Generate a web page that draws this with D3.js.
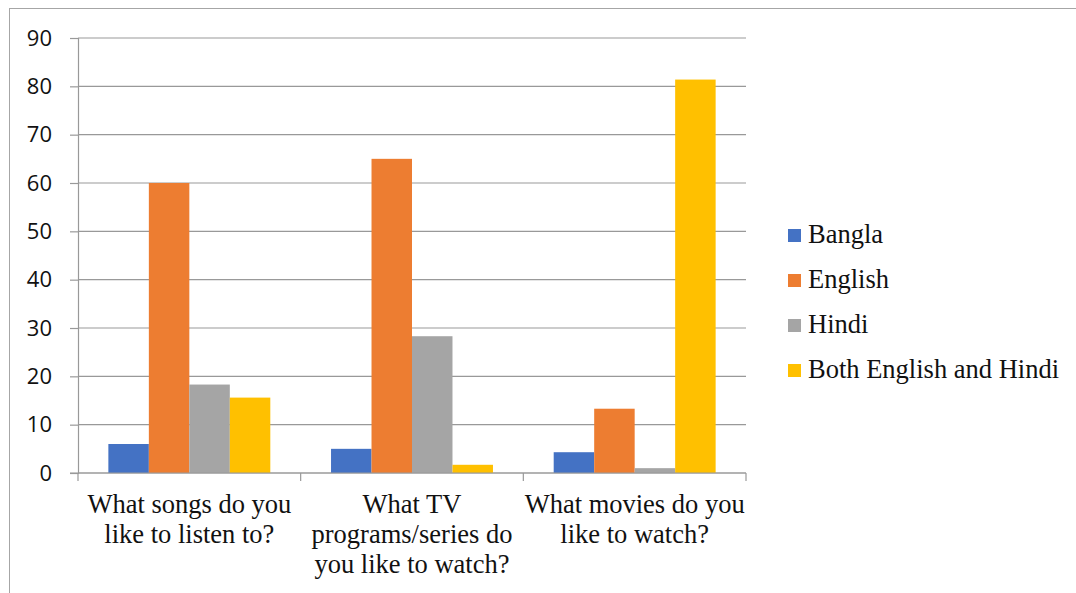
<!DOCTYPE html>
<html>
<head>
<meta charset="utf-8">
<script src="https://cdn.jsdelivr.net/npm/d3@7"></script>
<style>
  html, body { margin: 0; padding: 0; background: #fff; }
  svg { display: block; }
</style>
</head>
<body>
<svg id="chart" width="1076" height="593"></svg>
<script>
// Survey: language preference by media type
const categories = [
  "What songs do you\nlike to listen to?",
  "What TV\nprograms/series do\nyou like to watch?",
  "What movies do you\nlike to watch?"
];
const seriesNames = ["Bangla", "English", "Hindi", "Both English and Hindi"];
const bangla  = [6, 5, 4.3];
const english = [60, 65, 13.3];
const hindi   = [18.3, 28.3, 1];
const both    = [15.6, 1.7, 81.4];
const yTicks  = [0, 10, 20, 30, 40, 50, 60, 70, 80, 90];
const colors  = ["#4472C4", "#ED7D31", "#A5A5A5", "#FFC000"];

const seriesValues = [bangla, english, hindi, both];

const SERIF = "Liberation Serif";
const SANS = "Open Sans";

const svg = d3.select("#chart");
const plot = { left: 78, right: 746, top: 38, bottom: 473 };
const axisColor = "#999999";

// outer frame
svg.append("rect")
  .attr("x", 9.5).attr("y", 8.5)
  .attr("width", 1070).attr("height", 600)
  .attr("fill", "none").attr("stroke", "#a6a6a6").attr("stroke-width", 1);

const x0 = d3.scaleBand().domain(d3.range(categories.length))
  .range([plot.left, plot.right]).padding(0);
const x1 = d3.scaleBand().domain(d3.range(seriesNames.length))
  .range([0, x0.bandwidth()]).paddingInner(0).paddingOuter(0.75);
const y = d3.scaleLinear().domain([0, 90]).range([plot.bottom, plot.top]);

// horizontal gridlines
svg.append("g").selectAll("line").data(yTicks).join("line")
  .attr("x1", plot.left).attr("x2", plot.right)
  .attr("y1", d => y(d)).attr("y2", d => y(d))
  .attr("stroke", axisColor).attr("stroke-width", 1.2);

// y axis
const yAxis = d3.axisLeft(y).tickValues(yTicks).tickSize(8).tickPadding(18)
  .tickFormat(d3.format("d"));
const gy = svg.append("g").attr("transform", `translate(${plot.left},0)`).call(yAxis);
gy.attr("font-family", SANS).attr("font-size", 22);
gy.select(".domain").attr("stroke", axisColor).attr("stroke-width", 1.2);
gy.selectAll(".tick line").attr("stroke", axisColor).attr("stroke-width", 1.2);
gy.selectAll(".tick text").attr("fill", "#111");

// bars
const groups = svg.append("g").selectAll("g").data(categories).join("g")
  .attr("transform", (d, i) => `translate(${x0(i)},0)`);
groups.selectAll("rect")
  .data((d, i) => seriesValues.map((vals, s) => ({ s, v: vals[i] })))
  .join("rect")
  .attr("x", d => x1(d.s))
  .attr("width", x1.bandwidth())
  .attr("y", d => y(d.v))
  .attr("height", d => y(0) - y(d.v))
  .attr("fill", d => colors[d.s]);

// x axis: baseline and category boundary ticks
const gx = svg.append("g");
gx.append("line")
  .attr("x1", plot.left - 8).attr("x2", plot.right)
  .attr("y1", plot.bottom).attr("y2", plot.bottom)
  .attr("stroke", axisColor).attr("stroke-width", 1.2);
const bounds = d3.range(categories.length + 1).map(i =>
  i < categories.length ? x0(i) : x0(i - 1) + x0.bandwidth());
gx.selectAll("line.tk").data(bounds).join("line").attr("class", "tk")
  .attr("x1", d => d).attr("x2", d => d)
  .attr("y1", plot.bottom).attr("y2", plot.bottom + 8)
  .attr("stroke", axisColor).attr("stroke-width", 1.2);

// category labels
const labels = svg.append("g").selectAll("text").data(categories).join("text")
  .attr("font-family", SERIF)
  .attr("text-anchor", "middle")
  .attr("font-size", 26.5).attr("fill", "#111");
labels.each(function (d, i) {
  const cx = x0(i) + x0.bandwidth() / 2;
  d3.select(this).selectAll("tspan").data(d.split("\n")).join("tspan")
    .attr("x", cx).attr("y", (t, k) => 513 + k * 30).text(t => t);
});

// legend
const legend = svg.append("g").selectAll("g").data(seriesNames).join("g")
  .attr("transform", (d, i) => `translate(788,${243 + i * 45})`);
legend.append("rect")
  .attr("x", 0).attr("y", -14).attr("width", 13).attr("height", 13)
  .attr("fill", (d, i) => colors[i]);
legend.append("text")
  .attr("font-family", SERIF)
  .attr("x", 20).attr("y", 0)
  .attr("font-size", 26.5).attr("fill", "#111")
  .text(d => d);
</script>
</body>
</html>
